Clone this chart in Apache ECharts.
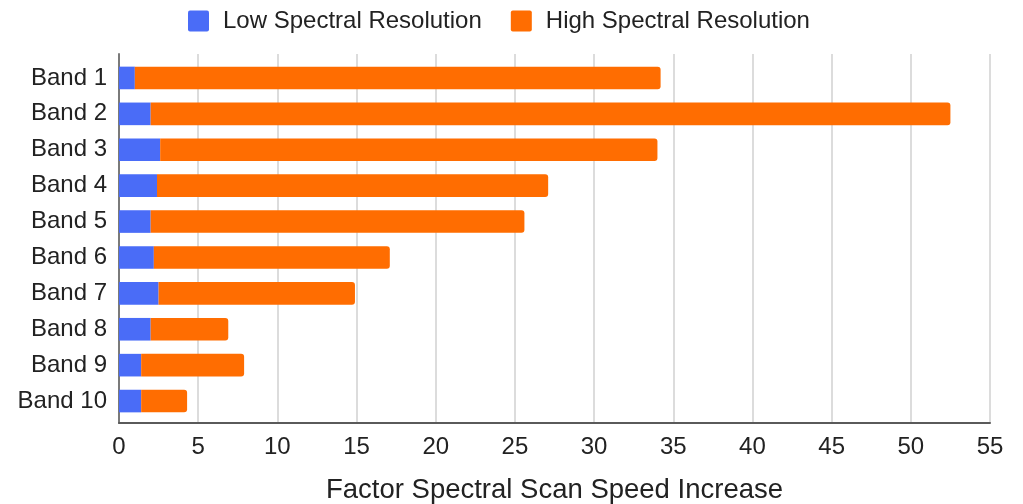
<!DOCTYPE html>
<html>
<head>
<meta charset="utf-8">
<script src="https://cdn.jsdelivr.net/npm/echarts@6/dist/echarts.min.js"></script>
<style>
  html, body { margin: 0; padding: 0; background: #fff; }
  #main { width: 1023px; height: 504px; }
</style>
</head>
<body>
<div id="main"></div>
<script>
// band names, top to bottom
var bands = ["Band 1", "Band 2", "Band 3", "Band 4", "Band 5", "Band 6", "Band 7", "Band 8", "Band 9", "Band 10"];
// stacked pieces
var lowRes = [1.0, 2.0, 2.6, 2.4, 2.0, 2.2, 2.5, 2.0, 1.4, 1.4];
var highRes = [33.2, 50.5, 31.4, 24.7, 23.6, 14.9, 12.4, 4.9, 6.5, 2.9];

var myChart = echarts.init(document.getElementById("main"));
var font = "'Liberation Sans', Arial, sans-serif";

myChart.setOption({
  animation: false,
  textStyle: { fontFamily: font },
  color: ["#4a6cf7", "#ff6d01"],
  legend: {
    top: 4,
    left: 183,
    itemWidth: 21,
    itemHeight: 21,
    itemGap: 29,
    // square with slightly rounded corners
    icon: "path://M2,0 H19 Q21,0 21,2 V19 Q21,21 19,21 H2 Q0,21 0,19 V2 Q0,0 2,0 Z",
    textStyle: {
      fontSize: 24,
      color: "#222",
      padding: [0, 0, 0, 9]
    }
  },
  // grid 0 holds the bars, grid 1 draws the frame, gridlines and x labels
  grid: [
    { left: 119, right: 33, top: 60, bottom: 85, outerBoundsMode: "none" },
    { left: 119, right: 33, top: 54, bottom: 81, outerBoundsMode: "none" }
  ],
  xAxis: [
    {
      gridIndex: 0,
      type: "value",
      min: 0,
      max: 55,
      show: false
    },
    {
      gridIndex: 1,
      type: "value",
      min: 0,
      max: 55,
      interval: 5,
      name: "Factor Spectral Scan Speed Increase",
      nameLocation: "middle",
      nameGap: 53,
      nameTextStyle: { fontSize: 27.5, color: "#222" },
      axisLine: { show: true, lineStyle: { color: "#5a5a5a", width: 2 } },
      axisTick: { show: false },
      axisLabel: { fontSize: 24, color: "#222", margin: 12 },
      splitLine: { show: true, lineStyle: { color: "#d0d0d0", width: 1.5 } }
    }
  ],
  yAxis: [
    {
      gridIndex: 0,
      type: "category",
      data: bands,
      inverse: true,
      axisLine: { show: false },
      axisTick: { show: false },
      axisLabel: { fontSize: 24, color: "#222", margin: 12 }
    },
    {
      gridIndex: 1,
      type: "value",
      min: 0,
      max: 1,
      axisLine: { show: true, lineStyle: { color: "#7a7a7a", width: 2 } },
      axisTick: { show: false },
      axisLabel: { show: false },
      splitLine: { show: false }
    }
  ],
  series: [
    {
      name: "Low Spectral Resolution",
      type: "bar",
      stack: "total",
      xAxisIndex: 0,
      yAxisIndex: 0,
      barCategoryGap: "37%",
      data: lowRes
    },
    {
      name: "High Spectral Resolution",
      type: "bar",
      stack: "total",
      xAxisIndex: 0,
      yAxisIndex: 0,
      barCategoryGap: "37%",
      itemStyle: { borderRadius: [0, 3, 3, 0] },
      data: highRes
    }
  ]
});
</script>
</body>
</html>
